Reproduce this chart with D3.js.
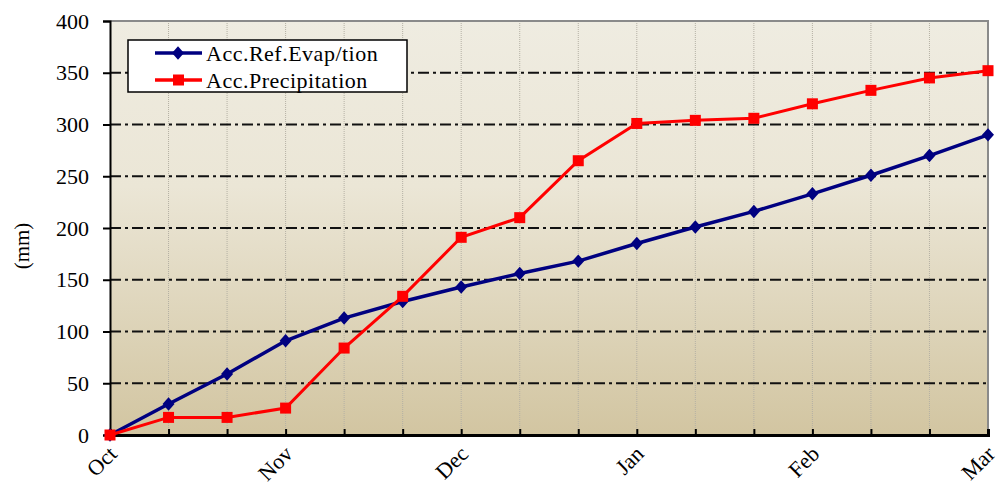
<!doctype html>
<html>
	<head>
		<script src="https://d3js.org/d3.v7.min.js"></script>
		<style>
		body { margin: 0; background: #fff; }
		text { font-family: "Liberation Serif", "DejaVu Serif", serif; fill: #000; }
		</style>
	</head>
	<body>
		<svg id="chart" width="1005" height="486"></svg>
		<script>
		// three readings per month, Oct 1 to Mar 1
		var months = ["Oct", "Nov", "Dec", "Jan", "Feb", "Mar"];
		var evap = [0, 30, 59, 91, 113, 129, 143, 156, 168, 185, 201, 216, 233, 251, 270, 290];
		var precip = [0, 17, 17, 26, 84, 134, 191, 210, 265, 301, 304, 306, 320, 333, 345, 352];
		var yTicks = [0, 50, 100, 150, 200, 250, 300, 350, 400];
		var seriesNames = ["Acc.Ref.Evap/tion", "Acc.Precipitation"];

		var svg = d3.select("#chart");
		var pLeft = 110, pRight = 988, pTop = 21, pBottom = 435;

		var x = d3.scaleLinear().domain([0, evap.length - 1]).range([pLeft, pRight]);
		var y = d3.scaleLinear().domain([0, 400]).range([pBottom, pTop]);

		var grad = svg.append("defs").append("linearGradient")
			.attr("id", "bg").attr("x1", 0).attr("y1", 0).attr("x2", 0).attr("y2", 1);
		grad.append("stop").attr("offset", "0%").attr("stop-color", "#efece1");
		grad.append("stop").attr("offset", "40%").attr("stop-color", "#ebe6d6");
		grad.append("stop").attr("offset", "100%").attr("stop-color", "#d2c5a1");

		svg.append("rect")
			.attr("x", pLeft).attr("y", pTop)
			.attr("width", pRight - pLeft).attr("height", pBottom - pTop)
			.attr("fill", "url(#bg)");

		// vertical dotted grid
		svg.append("g").selectAll("line")
			.data(d3.range(1, evap.length))
			.join("line")
			.attr("x1", function(d) { return x(d); }).attr("x2", function(d) { return x(d); })
			.attr("y1", pTop).attr("y2", pBottom)
			.attr("stroke", "#b4b0a4").attr("stroke-width", 1)
			.attr("stroke-dasharray", "1,1");

		// frame top and right
		svg.append("path")
			.attr("d", "M" + pLeft + "," + pTop + "H" + pRight + "V" + pBottom)
			.attr("fill", "none").attr("stroke", "#8a8a8a").attr("stroke-width", 2);

		// horizontal dash-dot grid
		svg.append("g").selectAll("line")
			.data(yTicks.filter(function(d) { return d > 0 && d < 400; }))
			.join("line")
			.attr("x1", pLeft).attr("x2", pRight)
			.attr("y1", function(d) { return y(d); }).attr("y2", function(d) { return y(d); })
			.attr("stroke", "#111").attr("stroke-width", 2)
			.attr("stroke-dasharray", "11,4,3,4");

		// y axis
		var yAxis = svg.append("g")
			.attr("transform", "translate(" + pLeft + ",0)")
			.call(d3.axisLeft(y).tickValues(yTicks).tickSize(7).tickPadding(14));
		yAxis.select(".domain").attr("stroke", "#000").attr("stroke-width", 2);
		yAxis.selectAll(".tick line").attr("stroke", "#000").attr("stroke-width", 2);
		yAxis.selectAll(".tick text").attr("font-size", 22);

		// x axis, ticks pointing inward
		var xAxis = svg.append("g")
			.attr("transform", "translate(0," + pBottom + ")")
			.call(d3.axisBottom(x).tickValues(d3.range(evap.length)).tickSize(-6).tickFormat(""));
		xAxis.select(".domain").attr("stroke", "#000").attr("stroke-width", 3);
		xAxis.selectAll(".tick line").attr("stroke", "#000").attr("stroke-width", 2);

		svg.append("g").selectAll("text")
			.data(months)
			.join("text")
			.attr("transform", function(d, i) {
				return "translate(" + (x(i * 3) - 1) + "," + (pBottom + 11) + ") rotate(-45)";
			})
			.attr("text-anchor", "end")
			.attr("dy", "0.6em")
			.attr("font-size", 22)
			.text(function(d) { return d; });

		// y title
		svg.append("text")
			.attr("transform", "translate(22," + ((pTop + pBottom) / 2 + 18) + ") rotate(-90)")
			.attr("text-anchor", "middle")
			.attr("dy", "0.35em")
			.attr("font-size", 21)
			.text("(mm)");

		var line = d3.line()
			.x(function(d, i) { return x(i); })
			.y(function(d) { return y(d); });

		var diamond = d3.symbol().type(d3.symbolSquare).size(72);

		svg.append("path").datum(evap)
			.attr("d", line).attr("fill", "none")
			.attr("stroke", "#000080").attr("stroke-width", 3.5);
		svg.append("g").selectAll("path")
			.data(evap)
			.join("path")
			.attr("transform", function(d, i) { return "translate(" + x(i) + "," + y(d) + ") scale(1,1.12) rotate(45)"; })
			.attr("d", diamond).attr("fill", "#000080");

		svg.append("path").datum(precip)
			.attr("d", line).attr("fill", "none")
			.attr("stroke", "#ff0000").attr("stroke-width", 3);
		svg.append("g").selectAll("rect")
			.data(precip)
			.join("rect")
			.attr("x", function(d, i) { return x(i) - 5.5; })
			.attr("y", function(d) { return y(d) - 5.5; })
			.attr("width", 11).attr("height", 11)
			.attr("fill", "#ff0000");

		// legend
		var legend = svg.append("g");
		legend.append("rect")
			.attr("x", 128).attr("y", 40).attr("width", 279).attr("height", 52)
			.attr("fill", "#fff").attr("stroke", "#000").attr("stroke-width", 1.5);
		var colors = ["#000080", "#ff0000"];
		seriesNames.forEach(function(name, i) {
			var ly = 53 + i * 27;
			legend.append("line")
				.attr("x1", 155).attr("x2", 202).attr("y1", ly).attr("y2", ly)
				.attr("stroke", colors[i]).attr("stroke-width", 3.5);
			if (i === 0) {
				legend.append("path")
					.attr("transform", "translate(178," + ly + ") scale(1,1.12) rotate(45)")
					.attr("d", diamond).attr("fill", colors[i]);
			} else {
				legend.append("rect")
					.attr("x", 173).attr("y", ly - 5.5).attr("width", 11).attr("height", 11)
					.attr("fill", colors[i]);
			}
			legend.append("text")
				.attr("x", 206).attr("y", ly)
				.attr("dy", "0.35em")
				.attr("font-size", 22)
				.attr("letter-spacing", 0.5)
				.text(name);
		});
		</script>
	</body>
</html>
